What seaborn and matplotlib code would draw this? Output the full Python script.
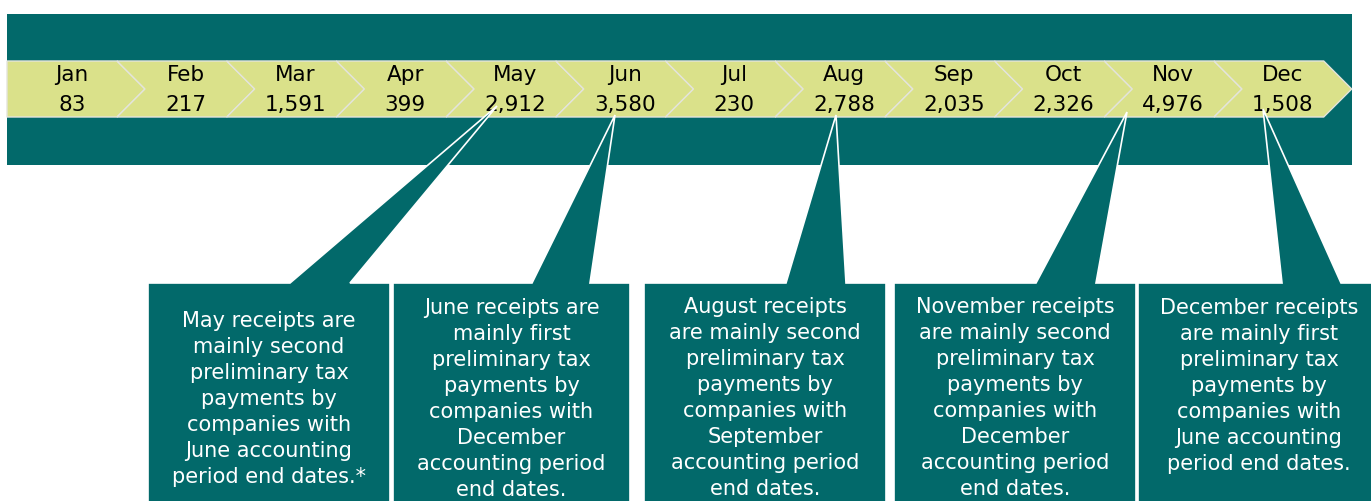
import matplotlib.pyplot as plt
import seaborn as sns
from matplotlib.patches import Polygon, Rectangle

# data
months = ['Jan', 'Feb', 'Mar', 'Apr', 'May', 'Jun', 'Jul', 'Aug', 'Sep', 'Oct', 'Nov', 'Dec']
receipts = [83, 217, 1591, 399, 2912, 3580, 230, 2788, 2035, 2326, 4976, 1508]

note_months = ['May', 'Jun', 'Aug', 'Nov', 'Dec']
notes = [
    ['May receipts are', 'mainly second', 'preliminary tax', 'payments by',
     'companies with', 'June accounting', 'period end dates.*'],
    ['June receipts are', 'mainly first', 'preliminary tax', 'payments by',
     'companies with', 'December', 'accounting period', 'end dates.'],
    ['August receipts', 'are mainly second', 'preliminary tax', 'payments by',
     'companies with', 'September', 'accounting period', 'end dates.'],
    ['November receipts', 'are mainly second', 'preliminary tax', 'payments by',
     'companies with', 'December', 'accounting period', 'end dates.'],
    ['December receipts', 'are mainly first', 'preliminary tax', 'payments by',
     'companies with', 'June accounting', 'period end dates.'],
]

# layout (pixels)
TEAL = '#02696A'
LIGHT = '#DAE18A'
W, H = 1371, 502
step, depth = 109.7, 28
x0 = 7.3
band_top, band_bot = 62, 118
# callout box left/right, base of the pointer, tip, first text line y
box_left = [148, 393, 644, 894, 1138]
box_right = [390, 630, 886, 1136, 1380]
base_l = [290, 532, 786, 1036, 1282]
base_r = [350, 590, 846, 1096, 1341]
tip_xy = [(497, 107), (615, 116), (836, 116), (1127, 113), (1263, 110)]
text_top = [321, 308, 307, 307, 308]
box_top = 284

sns.set_theme(style='white')
plt.rcParams['font.family'] = ['DejaVu Sans']

fig = plt.figure(figsize=(W / 100, H / 100), dpi=100)
ax = fig.add_axes([0, 0, 1, 1])
ax.set_xlim(0, W)
ax.set_ylim(H, 0)
ax.axis('off')

# dark band behind the arrow row
ax.add_patch(Rectangle((7, 15), 1352 - 7, 151, facecolor=TEAL, edgecolor='none', zorder=1))

mid = (band_top + band_bot) / 2
for i, (m, v) in enumerate(zip(months, receipts)):
    left = x0 + step * i
    right = left + step
    if i == 0:
        pts = [(7, band_top), (right, band_top), (right + depth, mid),
               (right, band_bot), (7, band_bot)]
    else:
        pts = [(left, band_top), (right, band_top), (right + depth, mid),
               (right, band_bot), (left, band_bot), (left + depth, mid)]
    ax.add_patch(Polygon(pts, closed=True, facecolor=LIGHT, edgecolor='#E4E4DC',
                         linewidth=1, zorder=2))
    cx = left + (step + depth) / 2 - (4 if i == 0 else 0)
    ax.text(cx, 75, m, ha='center', va='center', fontsize=15.5, color='black', zorder=3)
    ax.text(cx, 105, f'{v:,}', ha='center', va='center', fontsize=15.5, color='black', zorder=3)

# callout boxes
for k, lines in enumerate(notes):
    tx, ty = tip_xy[k]
    pts = [(box_left[k], H + 20), (box_left[k], box_top), (base_l[k], box_top), (tx, ty),
           (base_r[k], box_top), (box_right[k], box_top), (box_right[k], H + 20)]
    ax.add_patch(Polygon(pts, closed=True, facecolor=TEAL, edgecolor='white',
                         linewidth=1.2, zorder=4))
    cx = (box_left[k] + box_right[k]) / 2
    for j, line in enumerate(lines):
        ax.text(cx, text_top[k] + 26 * j, line, ha='center', va='center',
                fontsize=15, color='white', zorder=5)

fig.savefig('out.png', dpi=100, facecolor='white')
